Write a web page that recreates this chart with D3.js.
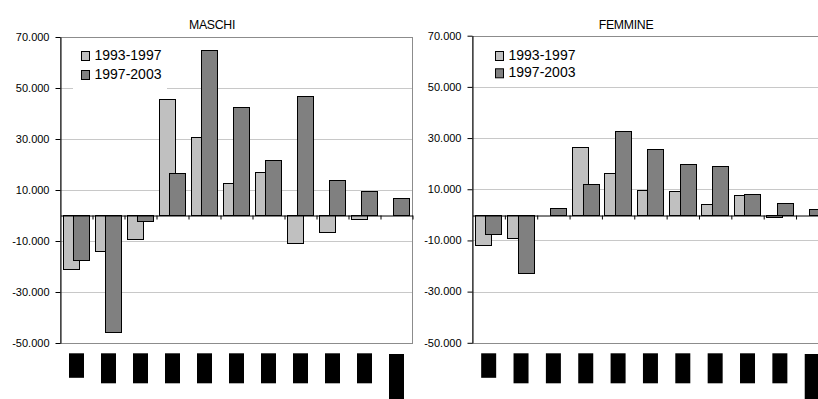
<!DOCTYPE html>
<html>
<head>
<meta charset="utf-8">
<script src="https://cdn.jsdelivr.net/npm/d3@7"></script>
<style>
  html, body { margin: 0; padding: 0; background: #fff; }
  svg { display: block; }
  text { font-family: "Liberation Sans", Arial, sans-serif; fill: #000; }
</style>
</head>
<body>
<svg id="chart" width="818" height="399"></svg>
<script>
// Classi (etichette di categoria, rese come blocchi sotto l'asse)
const classi = ["c01", "c02", "c03", "c04", "c05", "c06", "c07", "c08", "c09", "c10", "c11"];
const serie = ["1993-1997", "1997-2003"];

// Variazioni assolute per classe
const maschi9397  = [-21000, -13800, -9400, 45700, 30900, 12600, 17200, -10800, -6300, -1200, 0];
const maschi9703  = [-17500, -45800, -2200, 16700, 64900, 42500, 21600, 47000, 14000, 9500, 7000];
const femmine9397 = [-11900, -9100, 0, 26600, 16400, 9800, 9300, 4200, 7900, -700, 0];
const femmine9703 = [-7400, -22600, 2800, 11900, 32900, 25900, 19900, 18900, 8100, 4700, 2300];

const yTicks = [-50000, -30000, -10000, 10000, 30000, 50000, 70000];

const itLocale = d3.formatLocale({
  decimal: ",", thousands: ".", grouping: [3], currency: ["", " €"], minus: "-"
});
const fmt = itLocale.format(",.0f");

const colori = ["#c0c0c0", "#808080"];
// lunghezza dei blocchi delle etichette di categoria
const bloccoLen = [24.5, 30, 30, 30, 30, 30, 30, 30, 30, 30, 46];

const pannelli = [
  {
    titolo: "MASCHI", serieA: maschi9397, serieB: maschi9703,
    x0: 60.5, x1: 412.5, yTop: 37, yBot: 343, titoloX: 212,
    leg: { sqX: 81, rows: [51, 70], base: [59.5, 79.3], box: [73, 41, 94, 48] }
  },
  {
    titolo: "FEMMINE", serieA: femmine9397, serieB: femmine9703,
    x0: 472.5, x1: 828.4, yTop: 35.7, yBot: 342.8, titoloX: 626,
    leg: { sqX: 495, rows: [51, 68.3], base: [59.5, 77.3], box: [487, 41, 90, 42] }
  }
];

const svg = d3.select("#chart");

pannelli.forEach(p => {
  const g = svg.append("g");
  const y = d3.scaleLinear().domain([-50000, 70000]).range([p.yBot, p.yTop]);
  const x = d3.scaleBand().domain(classi).range([p.x0, p.x1]).padding(0);
  const step = x.step();
  const bw = step * 0.49;

  // griglia orizzontale
  g.append("g").selectAll("line")
    .data(yTicks.filter(t => t !== 70000 && t !== -50000))
    .join("line")
    .attr("x1", p.x0).attr("x2", p.x1)
    .attr("y1", d => Math.round(y(d)) + 0.5).attr("y2", d => Math.round(y(d)) + 0.5)
    .attr("stroke", "#c8c8c8").attr("stroke-width", 1);

  // bordo dell'area del grafico
  g.append("rect")
    .attr("x", p.x0).attr("y", Math.round(y(70000)) + 0.5)
    .attr("width", p.x1 - p.x0)
    .attr("height", Math.round(y(-50000)) - Math.round(y(70000)))
    .attr("fill", "none").attr("stroke", "#8c8c8c").attr("stroke-width", 1);

  // legenda (sfondo bianco)
  g.append("rect")
    .attr("x", p.leg.box[0]).attr("y", p.leg.box[1])
    .attr("width", p.leg.box[2]).attr("height", p.leg.box[3])
    .attr("fill", "#fff");

  // barre
  const serieDati = [p.serieA, p.serieB];
  serieDati.forEach((vals, si) => {
    const off = step * 0.075 + si * step * 0.325;
    g.append("g").selectAll("rect")
      .data(vals.map((v, i) => ({ c: classi[i], v })).filter(d => d.v !== 0))
      .join("rect")
      .attr("x", d => Math.round(x(d.c) + off) + 0.5)
      .attr("y", d => Math.round(y(Math.max(d.v, 0))) + 0.5)
      .attr("width", Math.round(bw))
      .attr("height", d => Math.abs(Math.round(y(d.v)) - Math.round(y(0))))
      .attr("fill", colori[si])
      .attr("stroke", "#000").attr("stroke-width", 1);
  });

  // asse X sullo zero
  const xi = d3.scaleLinear().domain([0, classi.length]).range([p.x0, p.x1]);
  const ax = g.append("g")
    .attr("transform", `translate(0,${Math.round(y(0)) + 0.5})`)
    .call(d3.axisBottom(xi).tickValues(d3.range(1, classi.length + 1))
      .tickSize(4).tickSizeOuter(0).tickFormat(""));
  ax.select(".domain").attr("stroke", "#000");
  ax.selectAll(".tick line").attr("stroke", "#000");

  // asse Y
  const ay = g.append("g")
    .attr("transform", `translate(${p.x0},0)`)
    .call(d3.axisLeft(y).tickValues(yTicks).tickSize(5).tickPadding(6)
      .tickSizeOuter(0).tickFormat(fmt));
  ay.select(".domain").attr("stroke", "#000");
  ay.selectAll(".tick line").attr("stroke", "#000");
  ay.selectAll(".tick text")
    .style("font-family", "'Liberation Sans', Arial, sans-serif")
    .style("font-size", "11px").attr("fill", "#000").attr("dy", "0.3em");

  // blocchi delle etichette di categoria
  g.append("g").selectAll("rect")
    .data(classi)
    .join("rect")
    .attr("x", d => x(d) + step / 2 - 7.5)
    .attr("y", (d, i) => i === classi.length - 1 ? 354 : 353.3)
    .attr("width", 15)
    .attr("height", (d, i) => bloccoLen[i])
    .attr("fill", "#000");

  // titolo
  g.append("text")
    .attr("x", p.titoloX).attr("y", 29)
    .attr("text-anchor", "middle")
    .style("font-size", "12.3px")
    .style("letter-spacing", "-0.3px")
    .text(p.titolo);

  // legenda
  serie.forEach((s, si) => {
    g.append("rect")
      .attr("x", p.leg.sqX + 0.5).attr("y", p.leg.rows[si] + 0.5)
      .attr("width", 8).attr("height", 9)
      .attr("fill", colori[si]).attr("stroke", "#000").attr("stroke-width", 1);
    g.append("text")
      .attr("x", p.leg.sqX + 13.5).attr("y", p.leg.base[si])
      .style("font-size", "14px")
      .text(s);
  });
});
</script>
</body>
</html>
